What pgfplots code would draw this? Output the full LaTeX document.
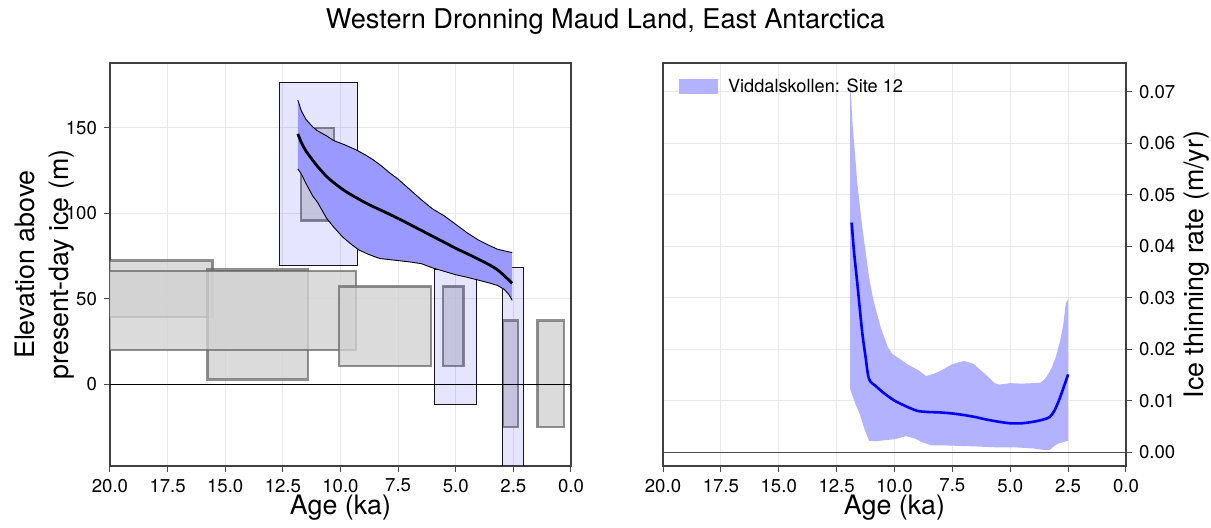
\documentclass[border=0pt]{standalone}
\usepackage{fontspec}
\setmainfont{TeX Gyre Heros}
\usepackage{pgfplots}
\pgfplotsset{compat=1.18}

\definecolor{gridgray}{gray}{0.91}
\definecolor{boxgray}{gray}{0.82}
\definecolor{edgegray}{gray}{0.40}

\pgfplotsset{
  panel/.style={
    scale only axis,
    height=201.5pt,
    x dir=reverse, xmin=0, xmax=20,
    xtick={0,2.5,5,7.5,10,12.5,15,17.5,20},
    xticklabel style={/pgf/number format/fixed,/pgf/number format/fixed zerofill,/pgf/number format/precision=1},
    /pgf/number format/assume math mode=true,
    tick label style={font=\fontsize{9.3}{10}\selectfont},
    label style={font=\fontsize{13.4}{17}\selectfont},
    grid=major, major grid style={gridgray, line width=0.5pt},
    tick align=outside, major tick length=3pt,
    tick style={black!70, line width=0.5pt},
    axis line style={black!75, line width=0.6pt},
    xtick pos=bottom,
    xlabel={Age (ka)},
    xlabel style={at={(axis description cs:0.5,-0.104)}, anchor=center},
  },
  graybox/.style={fill=boxgray, fill opacity=0.78, draw=edgegray, draw opacity=0.72, line width=1.2pt, forget plot},
  bluebox/.style={fill=blue, fill opacity=0.1, draw=black, draw opacity=0.9, line width=0.5pt, forget plot},
}

\begin{document}
\begin{tikzpicture}[x=1pt,y=1pt]
\useasboundingbox (0,0) rectangle (605.5,-264);
\node[font=\fontsize{13.6}{16}\selectfont] at (302.75,-11) {Western Dronning Maud Land, East Antarctica};

% ---------------- elevation panel ----------------
\begin{axis}[panel,
  at={(55pt,-233pt)}, anchor=south west, width=230.5pt,
  ymin=-48, ymax=188, ytick={0,50,100,150}, ytick pos=left,
  ylabel={Elevation above\\present-day ice (m)},
  ylabel style={align=center, at={(axis description cs:-0.141,0.5)}, anchor=center},
]
% exposure-age constraints (grey)
\addplot[graybox] coordinates {(21,39.3) (15.55,39.3) (15.55,72.3) (21,72.3)} -- cycle;
\addplot[graybox] coordinates {(15.77,2.7) (11.4,2.7) (11.4,67) (15.77,67)} -- cycle;
\addplot[graybox] coordinates {(21,20) (9.33,20) (9.33,66.3) (21,66.3)} -- cycle;
\addplot[graybox] coordinates {(10.06,10.5) (6.07,10.5) (6.07,57.2) (10.06,57.2)} -- cycle;
\addplot[graybox] coordinates {(5.56,10.5) (4.66,10.5) (4.66,57.2) (5.56,57.2)} -- cycle;
\addplot[graybox] coordinates {(2.94,-25.2) (2.31,-25.2) (2.31,37.2) (2.94,37.2)} -- cycle;
\addplot[graybox] coordinates {(1.46,-25.2) (0.30,-25.2) (0.30,37.2) (1.46,37.2)} -- cycle;
\addplot[graybox] coordinates {(11.72,95.7) (10.29,95.7) (10.29,150) (11.72,150)} -- cycle;
% site constraints (blue)
\addplot[bluebox] coordinates {(12.65,69.2) (9.26,69.2) (9.26,176.7) (12.65,176.7)} -- cycle;
\addplot[bluebox] coordinates {(5.94,-12.2) (4.08,-12.2) (4.08,67) (5.94,67)} -- cycle;
\addplot[bluebox] coordinates {(2.99,-60) (2.04,-60) (2.04,68.4) (2.99,68.4)} -- cycle;
% zero line
\addplot[black, line width=0.5pt, forget plot] coordinates {(21,0) (-1,0)};
% modelled elevation envelope
\addplot[fill=blue!40, draw=none, forget plot] coordinates {
 (11.85,166.3) (11.7,160) (11.5,155) (11.2,150.5) (11.0,148.3) (10.6,145.3) (10.3,142.6)
 (9.8,140) (9.3,137) (8.9,134) (8.6,131.5) (8.2,127.5) (7.9,124) (7.5,120) (7.0,114)
 (6.5,108) (6.0,102.5) (5.5,98.5) (5.0,93.5) (4.5,88.5) (4.0,84.2) (3.6,81.5) (3.2,79)
 (2.9,78) (2.55,77)
 (2.55,49) (2.7,52.5) (2.9,55.5) (3.2,57.8) (3.5,59) (4.0,60.8) (4.5,62.5) (5.0,64)
 (5.5,66) (6.0,68) (6.5,70.5) (7.0,71.5) (7.5,72.3) (8.3,73.5) (8.8,76) (9.2,78.5)
 (9.5,81.5) (9.9,86) (10.3,92) (10.6,97) (11.0,106.5) (11.2,110) (11.5,117.5) (11.7,123)
 (11.85,126)} -- cycle;
\addplot[black, line width=0.45pt, forget plot] coordinates {
 (11.85,166.3) (11.7,160) (11.5,155) (11.2,150.5) (11.0,148.3) (10.6,145.3) (10.3,142.6)
 (9.8,140) (9.3,137) (8.9,134) (8.6,131.5) (8.2,127.5) (7.9,124) (7.5,120) (7.0,114)
 (6.5,108) (6.0,102.5) (5.5,98.5) (5.0,93.5) (4.5,88.5) (4.0,84.2) (3.6,81.5) (3.2,79)
 (2.9,78) (2.55,77)};
\addplot[black, line width=0.45pt, forget plot] coordinates {
 (11.85,126) (11.7,123) (11.5,117.5) (11.2,110) (11.0,106.5) (10.6,97) (10.3,92) (9.9,86)
 (9.5,81.5) (9.2,78.5) (8.8,76) (8.3,73.5) (7.5,72.3) (7.0,71.5) (6.5,70.5) (6.0,68)
 (5.5,66) (5.0,64) (4.5,62.5) (4.0,60.8) (3.5,59) (3.2,57.8) (2.9,55.5) (2.7,52.5) (2.55,49)};
\addplot[black, line width=1.4pt, smooth, forget plot] coordinates {
 (11.85,146.5) (11.7,141.5) (11.5,136.5) (11.2,131) (11.0,127.5) (10.6,121.5) (10.3,118)
 (9.8,113) (9.3,109) (8.8,105.3) (8.2,101.5) (7.5,97) (7.0,93.5) (6.5,90) (6.0,86.5)
 (5.5,83) (5.0,79.5) (4.5,76.3) (4.0,73) (3.5,69.5) (3.2,67) (2.9,63.5) (2.55,59)};
\end{axis}

% ---------------- thinning-rate panel ----------------
\begin{axis}[panel,
  at={(331.5pt,-233pt)}, anchor=south west, width=231.5pt,
  ymin=-0.0027, ymax=0.0756,
  ytick={0,0.01,0.02,0.03,0.04,0.05,0.06,0.07}, ytick pos=right, yticklabel pos=right,
  yticklabel style={/pgf/number format/fixed,/pgf/number format/fixed zerofill,/pgf/number format/precision=2},
  scaled y ticks=false,
  ylabel={Ice thinning rate (m/yr)},
  ylabel style={at={(axis description cs:1.153,0.5)}, anchor=center, rotate=0},
  legend style={draw=none, fill=none, inner sep=0pt, at={(axis description cs:0.0346,0.941)},
    anchor=west, font=\fontsize{9.1}{10}\selectfont, column sep=3pt},
  legend cell align=left,
]
\addplot[black!70, line width=0.6pt, forget plot] coordinates {(21,0) (-1,0)};
\addplot[fill=blue!30, draw=none,
  legend image code/.code={\fill[blue!30] (0pt,-3.75pt) rectangle (19.3pt,3.75pt);}]
 coordinates {
 (11.92,0.0720) (11.8,0.063) (11.6,0.052) (11.4,0.044) (11.25,0.039) (11.1,0.034)
 (10.9,0.0293) (10.6,0.0243) (10.3,0.0205) (10.1,0.0191) (9.8,0.0182) (9.46,0.0171)
 (9.0,0.0160) (8.64,0.0148) (8.3,0.0152) (8.0,0.0158) (7.5,0.0171) (7.0,0.0177)
 (6.6,0.0172) (6.3,0.0160) (6.0,0.0148) (5.7,0.0135) (5.5,0.0131) (5.0,0.0134)
 (4.5,0.0133) (4.0,0.0134) (3.7,0.0135) (3.5,0.0142) (3.25,0.0160) (3.05,0.0182)
 (2.85,0.0215) (2.7,0.025) (2.6,0.0290) (2.5,0.0296)
 (2.5,0.0022) (2.9,0.0017) (3.1,0.0012) (3.3,0.0004) (3.5,0.0004) (4.0,0.0007)
 (4.7,0.0009) (5.5,0.0009) (6.5,0.0011) (7.2,0.0012) (7.8,0.0013) (8.4,0.0013)
 (8.8,0.0019) (9.1,0.0026) (9.5,0.0031) (10.0,0.0025) (10.44,0.0023) (10.8,0.0021)
 (11.1,0.0022) (11.3,0.0045) (11.5,0.0074) (11.7,0.0095) (11.92,0.0123)} -- cycle;
\addlegendentry{Viddalskollen: Site 12}
\addplot[blue, line width=1.3pt, smooth, forget plot] coordinates {
 (11.85,0.0446) (11.75,0.039) (11.6,0.0325) (11.4,0.0235) (11.25,0.0185) (11.1,0.0142)
 (10.8,0.0128) (10.44,0.0114) (10.0,0.0100) (9.6,0.0091) (9.3,0.0085) (9.0,0.0080)
 (8.6,0.0078) (8.0,0.0077) (7.5,0.0075) (7.0,0.0072) (6.5,0.0068) (6.0,0.0063)
 (5.5,0.0059) (5.0,0.0056) (4.5,0.0056) (4.0,0.0059) (3.6,0.0063) (3.3,0.0068)
 (3.1,0.0080) (2.9,0.0100) (2.7,0.0125) (2.5,0.0151)};
\end{axis}
\end{tikzpicture}
\end{document}
